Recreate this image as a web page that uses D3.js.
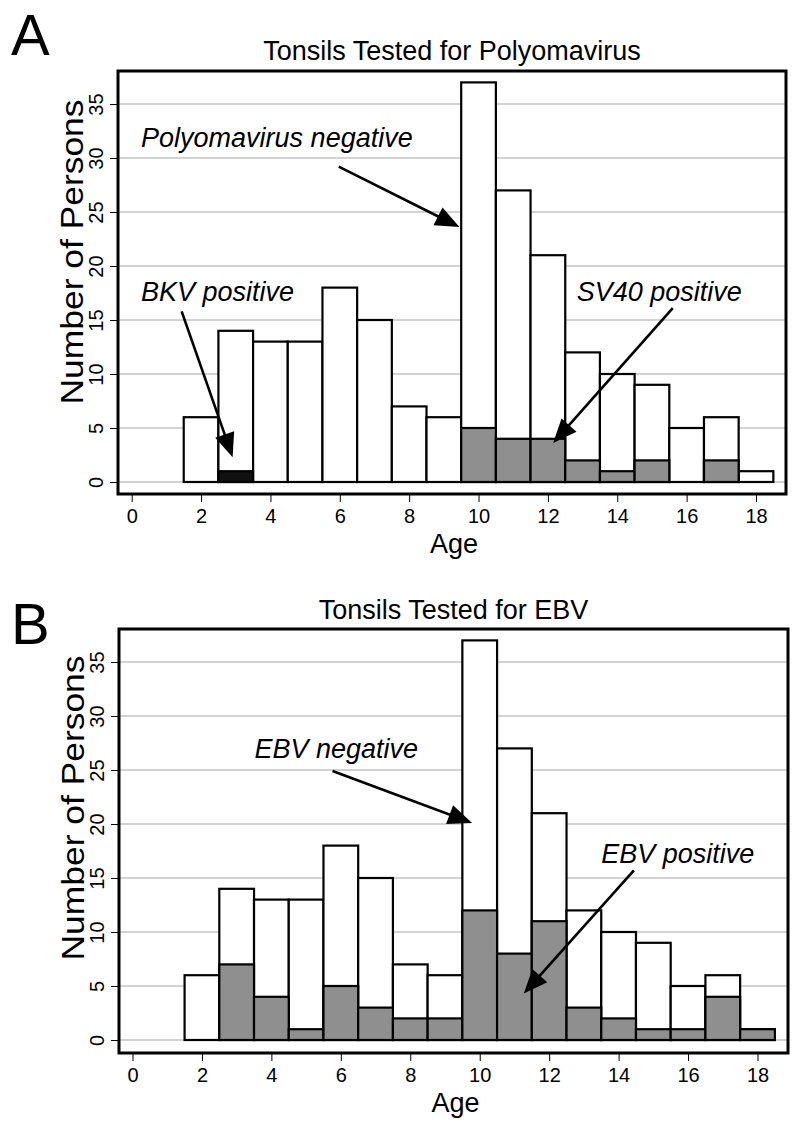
<!DOCTYPE html>
<html>
<head>
<meta charset="utf-8">
<script src="https://cdn.jsdelivr.net/npm/d3@7"></script>
<style>
  html, body { margin: 0; padding: 0; background: #fff; }
  svg { display: block; font-family: Arial, "Liberation Sans", Helvetica, sans-serif; }
</style>
</head>
<body>
<svg id="chart" width="800" height="1123"></svg>
<script>
// ---- data ----
const ages = [2, 3, 4, 5, 6, 7, 8, 9, 10, 11, 12, 13, 14, 15, 16, 17, 18];
const totals = [6, 14, 13, 13, 18, 15, 7, 6, 37, 27, 21, 12, 10, 9, 5, 6, 1];
const bkvPositive = [0, 1, 0, 0, 0, 0, 0, 0, 0, 0, 0, 0, 0, 0, 0, 0, 0];
const sv40Positive = [0, 0, 0, 0, 0, 0, 0, 0, 5, 4, 4, 2, 1, 2, 0, 2, 0];
const ebvPositive = [0, 7, 4, 1, 5, 3, 2, 2, 12, 8, 11, 3, 2, 1, 1, 4, 1];
const xTicks = [0, 2, 4, 6, 8, 10, 12, 14, 16, 18];
const yTicks = [0, 5, 10, 15, 20, 25, 30, 35];
const titles = ["Tonsils Tested for Polyomavirus", "Tonsils Tested for EBV"];
const panelLetters = ["A", "B"];

const svg = d3.select("#chart");

function drawPanel(cfg) {
  const g = svg.append("g");
  const x = d3.scaleLinear().domain([0, 18]).range([cfg.x0, cfg.x18]);
  const y = d3.scaleLinear().domain([0, 35]).range([cfg.y0, cfg.y35]);
  const fl = cfg.frame.left, fr = cfg.frame.right, ft = cfg.frame.top, fb = cfg.frame.bottom;

  // gridlines
  g.append("g").selectAll("line").data(yTicks).join("line")
    .attr("x1", fl).attr("x2", fr)
    .attr("y1", d => y(d)).attr("y2", d => y(d))
    .attr("stroke", "#a8a8a8").attr("stroke-width", 1.2);

  // total bars
  g.append("g").selectAll("rect").data(ages.map((a, i) => ({a, v: totals[i]}))).join("rect")
    .attr("x", d => x(d.a - 0.5)).attr("width", d => x(d.a + 0.5) - x(d.a - 0.5))
    .attr("y", d => y(d.v)).attr("height", d => y(0) - y(d.v))
    .attr("fill", "#fff").attr("stroke", "#000").attr("stroke-width", 2.2);

  // positive bars
  cfg.series.forEach(s => {
    g.append("g").selectAll("rect").data(ages.map((a, i) => ({a, v: s.values[i]})).filter(d => d.v > 0)).join("rect")
      .attr("x", d => x(d.a - 0.5)).attr("width", d => x(d.a + 0.5) - x(d.a - 0.5))
      .attr("y", d => y(d.v)).attr("height", d => y(0) - y(d.v))
      .attr("fill", s.color).attr("stroke", "#000").attr("stroke-width", 2.2);
  });

  // frame
  g.append("rect").attr("x", fl).attr("y", ft).attr("width", fr - fl).attr("height", fb - ft)
    .attr("fill", "none").attr("stroke", "#000").attr("stroke-width", 3);

  // x axis
  const xAxis = d3.axisBottom(x).tickValues(xTicks).tickSize(7).tickPadding(7).tickSizeOuter(0);
  const xa = g.append("g").attr("transform", `translate(0,${fb + 1})`).call(xAxis);
  xa.select(".domain").remove();
  xa.selectAll(".tick line").attr("stroke", "#000").attr("stroke-width", 1);
  xa.selectAll(".tick text").attr("font-size", 20).attr("font-family", "Arial, 'Liberation Sans', sans-serif").attr("fill", "#000");

  // y axis
  const yAxis = d3.axisLeft(y).tickValues(yTicks).tickSize(7).tickPadding(0).tickSizeOuter(0);
  const ya = g.append("g").attr("transform", `translate(${fl - 1},0)`).call(yAxis);
  ya.select(".domain").remove();
  ya.selectAll(".tick line").attr("stroke", "#000").attr("stroke-width", 1);
  ya.selectAll(".tick text")
    .attr("font-size", 20).attr("font-family", "Arial, 'Liberation Sans', sans-serif").attr("fill", "#000")
    .attr("x", null).attr("dy", null)
    .attr("text-anchor", "middle")
    .attr("transform", "translate(-14,0) rotate(-90)");

  // axis titles
  g.append("text").attr("x", (fl + fr) / 2 + 2).attr("y", cfg.ageBaseline)
    .attr("text-anchor", "middle").attr("font-size", 27).text("Age");
  g.append("text")
    .attr("transform", `translate(${cfg.ylabX},${cfg.ylabY}) rotate(-90)`)
    .attr("text-anchor", "middle").attr("font-size", 31)
    .attr("textLength", 305).attr("lengthAdjust", "spacingAndGlyphs")
    .text("Number of Persons");

  // title
  g.append("text").attr("x", (fl + fr) / 2).attr("y", cfg.titleBaseline)
    .attr("text-anchor", "middle").attr("font-size", 27).text(cfg.title);

  // panel letter
  g.append("text").attr("x", 11).attr("y", cfg.letterBaseline)
    .attr("font-size", 58).text(cfg.letter);

  // annotations
  cfg.labels.forEach(l => {
    g.append("text").attr("x", x(l.x)).attr("y", y(l.y))
      .attr("font-size", 27).attr("font-style", "italic").text(l.text);
  });
  cfg.arrows.forEach(a => {
    const x1 = x(a.x1), y1 = y(a.y1), x2 = x(a.x2), y2 = y(a.y2);
    const dx = x2 - x1, dy = y2 - y1, len = Math.hypot(dx, dy);
    const ux = dx / len, uy = dy / len;
    const hl = 24, hw = 10;
    const bx = x2 - ux * hl, by = y2 - uy * hl;
    g.append("line").attr("x1", x1).attr("y1", y1).attr("x2", bx + ux * 2).attr("y2", by + uy * 2)
      .attr("stroke", "#000").attr("stroke-width", 2.6);
    g.append("path")
      .attr("d", `M${x2},${y2}L${bx - uy * hw},${by + ux * hw}L${bx + uy * hw},${by - ux * hw}Z`)
      .attr("fill", "#000");
  });
}

drawPanel({
  letter: panelLetters[0], title: titles[0],
  frame: {left: 118, right: 786, top: 71, bottom: 494},
  x0: 131.7, x18: 756, y0: 482, y35: 104,
  titleBaseline: 60, letterBaseline: 55, ageBaseline: 553,
  ylabX: 83, ylabY: 252,
  series: [
    {values: sv40Positive, color: "#8f8f8f"},
    {values: bkvPositive, color: "#111"}
  ],
  labels: [
    {x: 0.27, y: 31.0, text: "Polyomavirus negative"},
    {x: 0.27, y: 16.8, text: "BKV positive"},
    {x: 12.83, y: 16.8, text: "SV40 positive"}
  ],
  arrows: [
    {x1: 5.97, y1: 29.2, x2: 9.45, y2: 23.6},
    {x1: 1.44, y1: 15.8, x2: 2.91, y2: 2.3},
    {x1: 15.6, y1: 16.1, x2: 12.15, y2: 3.6}
  ]
});

drawPanel({
  letter: panelLetters[1], title: titles[1],
  frame: {left: 119, right: 788, top: 629, bottom: 1053},
  x0: 132.5, x18: 757.5, y0: 1040, y35: 662,
  titleBaseline: 619, letterBaseline: 644, ageBaseline: 1112,
  ylabX: 84, ylabY: 808,
  series: [
    {values: ebvPositive, color: "#8f8f8f"}
  ],
  labels: [
    {x: 3.51, y: 26.1, text: "EBV negative"},
    {x: 13.5, y: 16.4, text: "EBV positive"}
  ],
  arrows: [
    {x1: 5.76, y1: 24.9, x2: 9.78, y2: 20.1},
    {x1: 14.44, y1: 15.7, x2: 11.27, y2: 4.3}
  ]
});
</script>
</body>
</html>
